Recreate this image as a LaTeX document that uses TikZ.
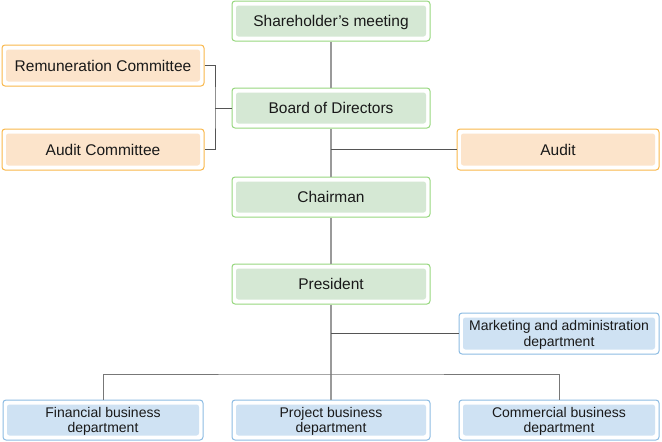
\documentclass[tikz,border=0pt]{standalone}
\usepackage{fontspec}
\setmainfont{Liberation Sans}
\definecolor{gB}{HTML}{97D77F}
\definecolor{gF}{HTML}{D5E8D4}
\definecolor{oB}{HTML}{F9B74A}
\definecolor{oF}{HTML}{FCE4CB}
\definecolor{bB}{HTML}{8DBCE3}
\definecolor{bF}{HTML}{CFE2F3}
\definecolor{trunk}{HTML}{9A9A9A}
\definecolor{side}{HTML}{555555}
\tikzset{
  box/.style={rectangle, rounded corners=3pt, line width=1pt, fill=white,
    align=center, inner sep=0pt, text=black!90, text depth=0pt,
    path picture={\fill[#1, rounded corners=2.5pt]
      ([shift={(4pt,-4.5pt)}]path picture bounding box.north west) rectangle
      ([shift={(-4pt,4.5pt)}]path picture bounding box.south east);}},
  gbox/.style={box=gF, draw=gB, minimum width=198pt, minimum height=40pt, text height=11pt, font=\fontsize{15.5}{17}\selectfont},
  obox/.style={box=oF, draw=oB, minimum width=202pt, minimum height=41pt, text height=11pt, font=\fontsize{15.5}{17}\selectfont},
  bbox/.style={box=bF, draw=bB, minimum width=200pt, minimum height=40pt, font=\fontsize{14}{15.5}\selectfont},
  tline/.style={draw=trunk, line width=1.6pt},
  sline/.style={draw=side, line width=0.9pt},
}
\begin{document}
\begin{tikzpicture}[x=1pt,y=-1pt]
\useasboundingbox (0,0) rectangle (662,442);
\node[gbox] (sh) at (331,21) {Shareholder’s meeting};
\node[gbox] (bd) at (331,108) {Board of Directors};
\node[gbox] (ch) at (331,197) {Chairman};
\node[gbox] (pr) at (331,284) {President};
\node[obox] (rc) at (103,65.5) {Remuneration Committee};
\node[obox] (ac) at (103,149.5) {Audit Committee};
\node[obox] (au) at (558,149.5) {Audit};
\node[bbox, minimum height=41pt] (mk) at (559,333.5) {Marketing and administration\\department};
\node[bbox] (fb) at (103,420) {Financial business\\department};
\node[bbox, minimum width=198pt] (pb) at (331,420) {Project business\\department};
\node[bbox] (cb) at (559,420) {Commercial business\\department};
\coordinate (j1) at (331,149.5);
\coordinate (j2) at (331,333.5);
\coordinate (j3) at (331,374);
\coordinate (br) at (215,108);
% trunk
\draw[tline] (sh.south) -- (bd.north);
\draw[tline] (bd.south) -- (ch.north);
\draw[tline] (ch.south) -- (pr.north);
\draw[tline] (pr.south) -- (pb.north);
% side links
\draw[sline] (j1) -- (au.west);
\draw[sline] (j2) -- (mk.west);
\draw[sline] (rc.east) -| (br) |- (ac.east);
\draw[sline] (br) -- (bd.west);
% bottom bar
\draw[draw=side!80, line width=1pt] (fb.north) |- (j3) -| (cb.north);
\end{tikzpicture}
\end{document}
